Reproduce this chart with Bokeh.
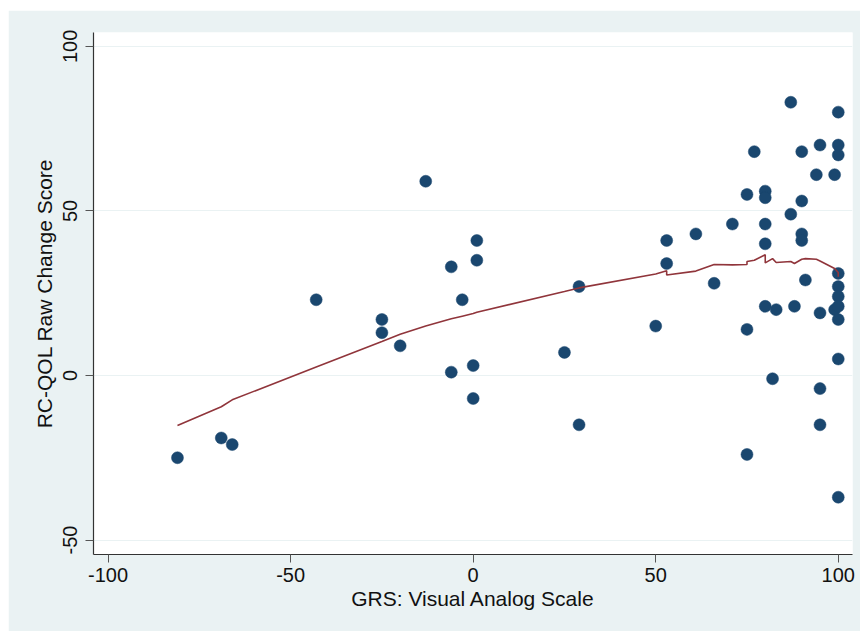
from bokeh.plotting import figure
from bokeh.models import Range1d, FixedTicker
from bokeh.embed import file_html
from bokeh.resources import INLINE

# Observations: GRS visual analog scale vs RC-QOL raw change score
grs = [-81, -69, -66, -43, -25, -25, -20, -13, -6, -6, -3, 0, 0, 1, 1,
       25, 29, 29, 50, 53, 53, 61, 66, 71, 75, 75, 75, 77,
       80, 80, 80, 80, 80, 82, 83, 87, 87, 88,
       90, 90, 90, 90, 91, 94, 95, 95, 95, 95, 99, 99,
       100, 100, 100, 100, 100, 100, 100, 100, 100, 100]
rcqol = [-25, -19, -21, 23, 17, 13, 9, 59, 33, 1, 23, 3, -7, 41, 35,
         7, 27, -15, 15, 41, 34, 43, 28, 46, 55, 14, -24, 68,
         56, 54, 46, 40, 21, -1, 20, 83, 49, 21,
         68, 53, 43, 41, 29, 61, 70, 19, -4, -15, 61, 20,
         80, 70, 67, 31, 27, 24, 21, 17, 5, -37]

# Lowess smoother evaluated at the sorted GRS values
lowess_x = [-81, -69, -66, -43, -25, -20, -13, -6, -3, 0, 1, 25, 29, 50,
            53, 53, 61, 66, 71, 75, 75, 77, 80, 80, 82, 83, 87, 88, 90,
            91, 94, 95, 99, 100, 100]
lowess_y = [-15.2, -9.5, -7.4, 2.6, 10.3, 12.5, 15.0, 17.2, 18.0, 18.8, 19.2,
            25.5, 26.6, 30.8, 31.8, 30.5, 31.7, 33.7, 33.6, 33.7, 34.6, 35.0,
            36.7, 34.2, 35.5, 34.3, 34.6, 34.0, 35.3, 35.5, 35.3, 34.8, 32.5,
            31.3, 30.0]

x_ticks = [-100, -50, 0, 50, 100]
y_ticks = [-50, 0, 50, 100]

BG = "#EAF2F3"
FONT = "Liberation Sans"

p = figure(width=852, height=621, margin=(10, 0, 0, 8),
           x_range=Range1d(-104.0, 103.9), y_range=Range1d(-54.4, 104.2),
           output_backend="svg", toolbar_location=None,
           min_border_left=85, min_border_right=8,
           min_border_top=22, min_border_bottom=77)

p.background_fill_color = "white"
p.border_fill_color = BG
p.outline_line_color = None

p.xgrid.visible = False
p.ygrid.grid_line_color = BG
p.ygrid.grid_line_width = 1.2

for ax in (p.xaxis, p.yaxis):
    ax.axis_line_color = "#333333"
    ax.axis_line_width = 1.2
    ax.major_tick_line_color = "#555555"
    ax.major_tick_in = 0
    ax.major_tick_out = 8
    ax.minor_tick_line_color = None
    ax.major_label_text_font = FONT
    ax.major_label_text_font_size = "20px"
    ax.major_label_text_color = "#111111"
    ax.axis_label_text_font = FONT
    ax.axis_label_text_font_size = "21px"
    ax.axis_label_text_font_style = "normal"
    ax.axis_label_text_color = "#111111"

p.xaxis.ticker = FixedTicker(ticks=x_ticks)
p.yaxis.ticker = FixedTicker(ticks=y_ticks)
# plain hyphen-minus for negative tick labels
p.xaxis.major_label_overrides = {t: str(t) for t in x_ticks}
p.yaxis.major_label_overrides = {t: str(t) for t in y_ticks}
p.xaxis.axis_label = "GRS: Visual Analog Scale"
p.yaxis.axis_label = "RC-QOL Raw Change Score"
p.yaxis.major_label_orientation = "vertical"
p.xaxis.major_label_standoff = 5
p.yaxis.major_label_standoff = 8
p.xaxis.axis_label_standoff = 2
p.yaxis.axis_label_standoff = 5

p.scatter(grs, rcqol, size=12, fill_color="#1A476F", line_color="#1A476F",
          line_width=0.5)
p.line(lowess_x, lowess_y, line_color="#90353B", line_width=1.6)

open("out.html", "w").write(file_html(p, INLINE))
